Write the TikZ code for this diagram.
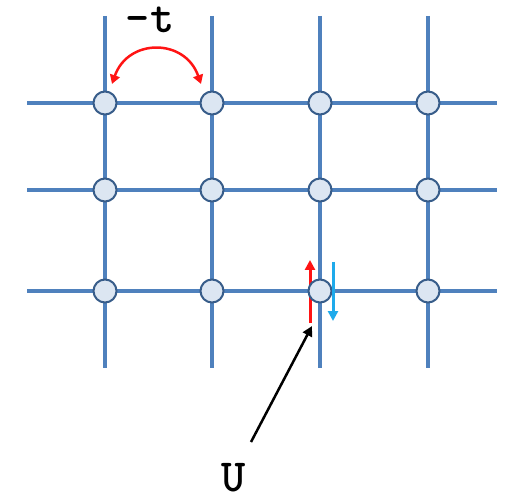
\documentclass[tikz,border=0pt]{standalone}
\usepackage{fontspec}
\usetikzlibrary{arrows.meta}
\definecolor{gridblue}{RGB}{79,129,189}
\definecolor{sitefill}{RGB}{220,230,242}
\definecolor{siteedge}{RGB}{56,93,138}
\definecolor{spinred}{RGB}{255,20,20}
\definecolor{spinblue}{RGB}{30,170,235}
\tikzset{
  gridline/.style={draw=gridblue,line width=3.5pt},
  site/.style={circle,draw=siteedge,fill=sitefill,line width=2pt,minimum size=23pt,inner sep=0pt},
  lbl/.style={font=\ttfamily\bfseries\fontsize{46}{46}\selectfont,inner sep=0pt},
}
\begin{document}
\begin{tikzpicture}[x=1pt,y=-1pt]
\useasboundingbox (0,0) rectangle (512,500);
% grid lines
\foreach \y/\n in {103/1,190/2,291/3}{
  \coordinate (hl\n) at (27,\y); \coordinate (hr\n) at (497,\y);
  \draw[gridline] (hl\n) -- (hr\n);
}
\foreach \x/\n in {105/1,212/2,320/3,428/4}{
  \coordinate (vt\n) at (\x,16); \coordinate (vb\n) at (\x,368);
  \draw[gridline] (vt\n) -- (vb\n);
}
% spin arrows
\coordinate (upS) at (310,323); \coordinate (upE) at (310,260);
\coordinate (dnS) at (333,262); \coordinate (dnE) at (333,321);
\draw[spinred,line width=3pt,-{Triangle[length=10pt,width=10pt]}] (upS) -- (upE);
% sites
\foreach \x/\i in {105/1,212/2,320/3,428/4}{
  \foreach \y/\j in {103/1,190/2,291/3}{
    \node[site] (s\i\j) at (\x,\y) {};
  }
}
\draw[spinblue,line width=3pt,-{Triangle[length=10pt,width=10pt]}] (dnS) -- (dnE);
% hopping
\coordinate (hopA) at (112,84); \coordinate (hopB) at (201,84);
\draw[spinred,line width=2.5pt,{Triangle[length=9pt,width=10pt]}-{Triangle[length=9pt,width=10pt]}]
  (hopA) .. controls (128,38) and (185,38) .. (hopB);
\node[lbl] (t) at (150,20) {-t};
% interaction
\node[lbl] (U) at (234,478) {U};
\coordinate (Utip) at (312,326);
\draw[black,line width=2.5pt,-{Triangle[length=10pt,width=10pt]}] (251,442) -- (Utip);
\end{tikzpicture}
\end{document}
